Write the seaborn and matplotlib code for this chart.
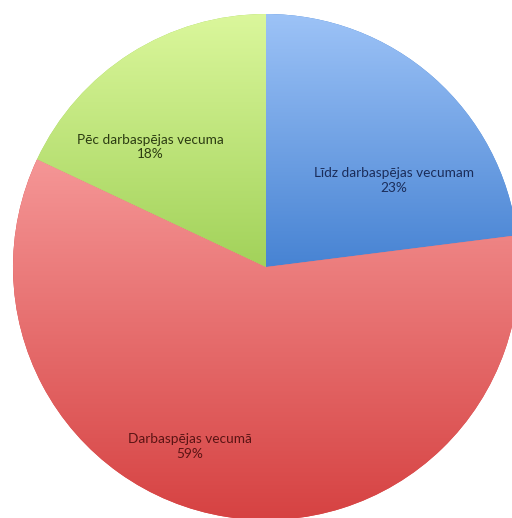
import numpy as np
import matplotlib.pyplot as plt
import seaborn as sns
from matplotlib.colors import LinearSegmentedColormap

sns.set_style("white")
plt.rcParams['font.family'] = ['Lato', 'DejaVu Sans']

# dati
labels = ['Līdz darbaspējas vecumam', 'Darbaspējas vecumā', 'Pēc darbaspējas vecuma']
values = [23, 59, 18]
pct_text = ['23%', '59%', '18%']

# krāsas (gradients no augšas uz leju)
grad_top = ['#9dc3f7', '#f59696', '#dbf79c']
grad_bottom = ['#4783d3', '#d64242', '#a2d25a']
text_colors = ['#1b2d5a', '#5a1414', '#2c3c12']
# etiķešu novietojums (rādiuss, leņķis grādos)
label_pos = [(0.61, 34), (0.77, 247), (0.66, 134)]

fig = plt.figure(figsize=(5.12, 5.18), dpi=100)
ax = fig.add_axes([0, 0, 1, 1])

cx, cy, r = 266, 267, 253

wedges, _ = ax.pie(values, startangle=90, counterclock=False,
                   colors=grad_bottom, radius=1, frame=True,
                   wedgeprops=dict(linewidth=0))
ax.set_aspect('equal')
ax.axis('off')

# gradienta aizpildījums katram sektoram
for w, top, bot in zip(wedges, grad_top, grad_bottom):
    bb = w.get_path().get_extents(w.get_patch_transform())
    cmap = LinearSegmentedColormap.from_list('g', [top, bot])
    grad = np.linspace(0, 1, 256).reshape(-1, 1)
    im = ax.imshow(grad, cmap=cmap, aspect='auto',
                   extent=[bb.x0, bb.x1, bb.y0, bb.y1], origin='upper',
                   zorder=2)
    im.set_clip_path(w)

for lab, pct, col, (rr, ang) in zip(labels, pct_text, text_colors, label_pos):
    a = np.deg2rad(ang)
    ax.text(rr * np.cos(a), rr * np.sin(a), lab + '\n' + pct,
            ha='center', va='center', fontsize=9.8, color=col,
            linespacing=1.25, zorder=3)

ax.set_xlim(-cx / r, (512 - cx) / r)
ax.set_ylim((cy - 518) / r, cy / r)

plt.savefig('out.png', dpi=100)
